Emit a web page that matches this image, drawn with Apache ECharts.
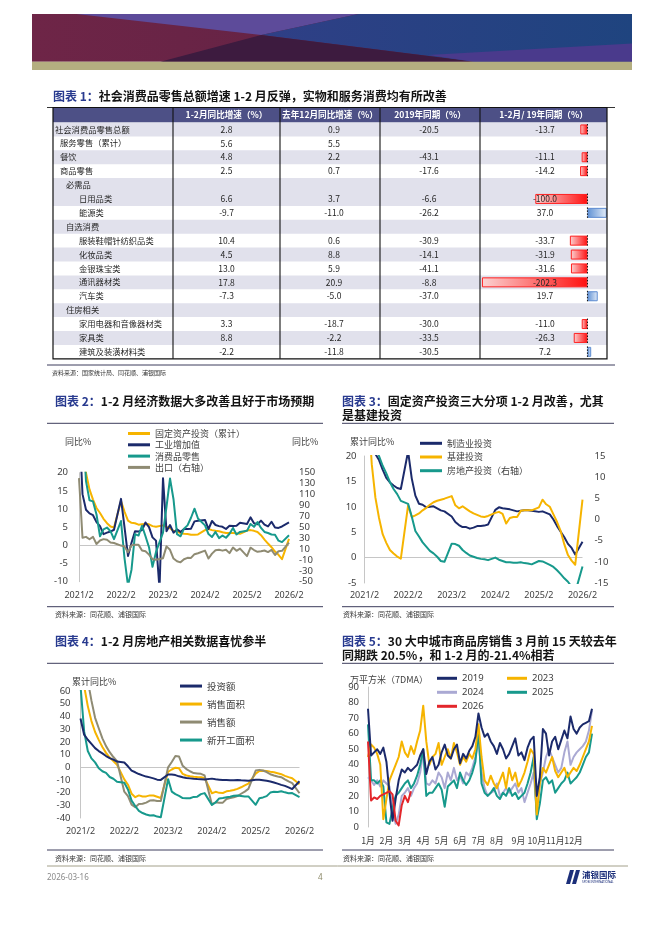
<!DOCTYPE html>
<html><head><meta charset="utf-8">
<script src="https://cdn.jsdelivr.net/npm/echarts@6.0.0/dist/echarts.min.js"></script>
<style>html,body{margin:0;padding:0;background:#fff}#c{width:662px;height:936px}</style>
</head><body><div id="c"></div>
<script>
// ================= DATA =================
// Table 1
const rowNames = ['社会消费品零售总额','服务零售（累计）','餐饮','商品零售','必需品','日用品类','能源类','自选消费','服装鞋帽针纺织品类','化妆品类','金银珠宝类','通讯器材类','汽车类','住房相关','家用电器和音像器材类','家具类','建筑及装潢材料类'];
const rowLevels = [0,1,1,1,2,3,3,2,3,3,3,3,3,2,3,3,3];
const ytdYoY  = [2.8,5.6,4.8,2.5,null,6.6,-9.7,null,10.4,4.5,13.0,17.8,-7.3,null,3.3,8.8,-2.2];
const decYoY  = [0.9,5.5,2.2,0.7,null,3.7,-11.0,null,0.6,8.8,5.9,20.9,-5.0,null,-18.7,-2.2,-11.8];
const yoy2019 = [-20.5,null,-43.1,-17.6,null,-6.6,-26.2,null,-30.9,-14.1,-41.1,-8.8,-37.0,null,-30.0,-33.5,-30.5];
const vs2019  = [-13.7,null,-11.1,-14.2,null,-100.0,37.0,null,-33.7,-31.9,-31.6,-202.3,19.7,null,-11.0,-26.3,7.2];
const tableHeaders = ['1-2月同比增速（%）','去年12月同比增速（%）','2019年同期（%）','1-2月/ 19年同期（%）'];

// Monthly axis 2021/2 .. 2026/2 (January has no separate data)
const months = [];
for (let y = 2021; y <= 2026; y++) for (let m = 1; m <= 12; m++) {
  if ((y === 2021 && m < 2) || (y === 2026 && m > 2)) continue;
  months.push(y + '/' + m);
}

// Chart 2
const faiCum = [35.0,25.6,19.9,15.4,12.6,10.3,8.9,7.3,6.1,5.2,4.9,null,
  12.2,9.3,6.8,6.2,6.1,5.7,5.8,5.9,5.8,5.3,5.1,null,
  5.5,5.1,4.7,4.0,3.8,3.4,3.2,3.1,2.9,2.9,3.0,null,
  4.2,4.5,4.2,4.0,3.9,3.6,3.4,3.4,3.4,3.3,3.2,null,
  4.1,4.2,4.0,3.7,2.8,1.6,0.5,-0.5,-1.7,-2.6,-3.8,null,1.8];
const indVA = [35.1,14.1,9.8,8.8,8.3,6.4,5.3,3.1,3.5,3.8,4.3,null,
  12.8,5.0,-2.9,0.7,3.9,3.8,4.2,6.3,5.0,2.2,1.3,-12.0,
  18.5,3.9,5.6,3.5,4.4,3.7,4.5,4.5,4.6,6.6,6.8,null,
  7.0,4.5,6.7,5.6,5.3,5.1,4.5,5.4,5.3,5.4,6.2,null,
  5.9,7.7,6.1,5.8,6.8,5.7,5.2,6.5,4.9,4.8,5.2,null,6.3];
const retail = [33.8,34.2,17.7,12.4,12.1,8.5,2.5,4.4,4.9,3.9,1.7,null,
  6.7,-3.5,-11.1,-6.7,3.1,2.7,5.4,2.5,-0.5,-5.9,-1.8,null,
  3.5,10.6,18.4,12.7,3.1,2.5,4.6,5.5,7.6,10.1,7.4,null,
  5.5,3.1,2.3,3.7,2.0,2.7,2.1,3.2,4.8,3.0,3.7,null,
  4.0,5.9,5.1,6.4,4.8,3.7,3.4,3.0,2.9,1.3,0.9,null,2.8];
const exportsYoY = [140.0,30.6,32.3,27.9,32.2,19.3,25.6,28.1,27.1,22.0,20.9,null,
  16.3,14.7,3.9,16.9,17.9,18.0,7.1,5.7,-0.3,-8.7,-9.9,null,
  -6.8,14.8,8.5,-7.5,-12.4,-14.5,-8.8,-6.2,-6.4,0.5,2.3,null,
  7.1,-7.5,1.5,7.6,8.6,7.0,8.7,2.4,12.7,6.7,10.7,null,
  -3.0,12.4,8.1,4.8,5.8,7.2,4.4,8.3,-1.1,5.9,6.6,null,21.8];

// Chart 3
const mfgInv = [37.3,29.8,23.8,20.4,19.2,17.3,15.7,14.8,14.2,13.7,13.5,null,
  20.9,15.6,12.2,10.6,10.4,9.9,10.0,10.1,9.7,9.3,9.1,null,
  8.1,7.0,6.4,6.0,6.0,5.7,5.9,6.2,6.2,6.3,6.5,null,
  9.4,9.9,9.7,9.6,9.5,9.3,9.1,9.2,9.3,9.3,9.2,null,
  9.0,9.1,8.8,8.5,7.5,6.2,5.1,4.0,2.7,1.9,0.6,null,3.1];
const infraInv = [36.6,29.7,18.4,11.8,7.8,4.6,2.9,1.5,0.8,0.2,-0.2,null,
  10.3,8.0,8.3,8.7,9.3,9.8,10.4,10.9,11.2,11.4,11.6,null,
  12.1,10.3,9.7,10.1,9.6,9.1,8.7,8.4,8.1,8.0,8.2,null,
  8.8,9.0,8.6,6.7,7.8,8.0,8.0,9.2,9.3,9.3,9.3,null,
  9.9,11.4,10.5,10.0,8.5,7.0,5.2,2.6,0.5,-0.6,-1.4,null,11.4];
const reInv = [38.3,25.6,21.6,18.3,15.0,12.7,10.9,8.8,7.2,6.0,4.4,null,
  3.7,0.7,-2.7,-4.0,-5.4,-6.4,-7.4,-8.0,-8.8,-9.8,-10.0,null,
  -5.7,-5.8,-6.2,-7.2,-7.9,-8.5,-8.8,-9.1,-9.3,-9.4,-9.6,null,
  -9.0,-9.5,-9.8,-10.1,-10.1,-10.2,-10.2,-10.1,-10.3,-10.4,-10.6,null,
  -9.8,-9.9,-10.3,-10.7,-11.2,-12.0,-12.9,-13.9,-14.7,-15.9,-17.2,null,-11.1];

// Chart 4
const salesArea = [104.9,63.8,48.1,36.3,27.7,21.5,15.9,11.3,7.6,4.8,1.9,null,
  -9.6,-13.8,-20.9,-23.6,-22.2,-23.1,-23.0,-22.2,-22.3,-23.3,-24.3,null,
  -3.6,-1.8,-0.4,-0.9,-5.3,-6.5,-7.1,-7.5,-7.8,-8.0,-8.5,null,
  -20.5,-19.4,-20.2,-20.3,-19.0,-18.6,-18.0,-17.1,-15.8,-14.3,-12.9,null,
  -5.1,-3.0,-2.8,-2.9,-3.5,-4.0,-4.7,-5.5,-6.8,-7.8,-8.7,null,-13.5];
const salesAmt = [133.4,88.5,68.2,52.4,38.9,30.7,22.7,16.6,11.8,8.0,4.8,null,
  -19.3,-22.7,-29.5,-31.5,-28.9,-28.8,-27.9,-26.3,-26.1,-26.6,-26.7,null,
  -0.1,4.1,8.8,8.4,1.1,-1.5,-3.2,-4.6,-4.9,-5.2,-6.5,null,
  -29.3,-27.6,-28.0,-27.9,-25.0,-24.3,-23.6,-22.7,-20.9,-19.2,-17.1,null,
  -2.6,-2.1,-2.6,-3.8,-5.5,-6.5,-7.3,-7.9,-9.6,-11.2,-12.6,null,-20.5];
const newStarts = [64.3,28.2,12.8,6.9,3.8,-0.9,-3.2,-4.5,-7.7,-9.1,-11.4,null,
  -12.2,-17.5,-26.3,-30.6,-34.4,-36.1,-37.2,-38.0,-37.8,-38.9,-39.4,null,
  -9.4,-19.2,-21.2,-22.6,-24.3,-24.5,-24.4,-23.4,-23.2,-21.2,-20.4,null,
  -29.7,-27.8,-24.6,-24.2,-23.7,-23.2,-22.5,-22.2,-22.6,-23.0,-23.0,null,
  -29.6,-24.4,-23.8,-22.8,-20.0,-19.4,-19.5,-18.9,-19.8,-20.5,-20.4,null,-23.5];
const reInvest = reInv;

// Chart 5 (7DMA, sampled every 5 days)
const sampleDays = [];
for (let d = 0; d <= 365; d += 5) sampleDays.push(d);
const monthStartDays = [0,31,59,90,120,151,181,212,243,273,304,334];
const sales2019 = [76,46,48,50,47,51,42,22,4,18,30,37,35,38,36,38,40,46,50,34,42,45,37,40,48,53,46,44,50,53,41,47,44,49,52,58,73,64,58,60,55,52,47,54,50,44,47,52,57,46,48,43,51,56,58,20,32,63,60,46,55,58,50,56,62,57,71,63,60,64,66,67,68,76];
const sales2023 = [45,53,51,47,40,5,18,30,35,40,45,55,48,45,52,47,55,62,78,55,40,45,47,54,40,45,50,44,54,48,40,45,42,47,44,50,66,45,30,27,33,28,25,30,35,25,38,30,35,26,30,35,42,50,47,8,28,38,35,40,45,36,32,35,38,32,35,38,36,40,45,50,55,65];
const sales2024 = [32,30,27,30,26,30,28,26,12,2,8,20,22,25,20,25,28,35,48,28,27,30,28,35,32,25,35,30,38,30,33,28,35,33,38,45,55,35,25,20,22,23,28,20,22,25,22,25,28,22,25,16,22,28,35,10,28,35,45,50,45,40,35,38,48,55,40,45,48,50,52,55,62,75];
const sales2025 = [66,30,30,28,30,26,3,2,12,20,22,25,28,30,25,28,33,40,50,20,22,22,25,28,24,13,26,28,30,25,35,30,27,30,35,42,62,28,22,20,22,25,20,18,22,20,25,20,22,18,20,22,28,35,45,5,15,30,32,28,30,22,25,28,30,35,28,30,32,35,40,45,48,60];
const sales2026 = [55,17,19,18,20,21,22,23,21,4,1,14,20,16,23];

// ================= STYLE / LAYOUT =================
const CN = '"Noto Sans CJK SC"';
const C = {navy:'#1b2a6b', yellow:'#f6b400', teal:'#17998c', olive:'#8f8b73', lav:'#aaa9d3', red:'#e3262b'};
const TB = {left:53, top:122.5, width:554, height:236.3, headTop:107.5};
const numCenters = [173.5, 281, 376, 492];
const indentPx = [2, 7, 13, 26];
const shaded = [1,0,1,0,1,1,0,1,0,1,0,1,0,1,0,1,0];
const tickC = '#404040';
const monthStartIdx = monthStartDays.map(d => Math.round(d / 5));

function lineSeries(name, data, xi, yi, color, extra) {
  return Object.assign({
    name, type:'line', data, xAxisIndex:xi, yAxisIndex:yi, symbol:'none', connectNulls:true,
    lineStyle:{color, width:2, join:'round'}, itemStyle:{color}, silent:true, clip:true, z:5
  }, extra || {});
}
function zeroLine() {
  return {silent:true, symbol:'none', label:{show:false}, animation:false,
    lineStyle:{color:'#c6c6c6', width:1, type:'solid'}, data:[{yAxis:0}]};
}
function catAxis(gi, data, margin) {
  return {type:'category', gridIndex:gi, data, boundaryGap:false,
    axisLine:{show:false}, axisTick:{show:false}, splitLine:{show:false},
    axisLabel:{interval:(i)=>i%12===0, hideOverlap:false, color:tickC, fontSize:9, margin:margin, fontFamily:'"Noto Sans"'}};
}
function valAxis(gi, min, max, interval, pos, margin, line) {
  return {type:'value', gridIndex:gi, min, max, interval, position:pos,
    axisLine:{show:!!line, lineStyle:{color:'#c6c6c6', width:1}}, axisTick:{show:false}, splitLine:{show:false},
    axisLabel:{color:tickC, fontSize:9.5, margin, hideOverlap:false, fontFamily:'"Noto Sans"'}};
}
function legend(names, left, top, fontSize, gap, w) {
  return {data:names, orient:'vertical', left, top, itemWidth:w||22, itemHeight:3, icon:'rect', itemGap:gap,
    selectedMode:false, textStyle:{color:'#404040', fontSize, fontFamily: CN}, padding:0};
}

// table renderers
function renderBg(params, api) {
  const i = api.value(1);
  if (!shaded[i]) return;
  const p0 = api.coord([0, i]), p1 = api.coord([TB.width, i]);
  const h = api.size([0, 1])[1];
  return {type:'rect', shape:{x:p0[0], y:p0[1]-h/2, width:p1[0]-p0[0], height:h}, style:{fill:'#e1e1ec'}};
}
function renderText(params, api) {
  const i = api.value(1);
  const p0 = api.coord([0, i]);
  const children = [{type:'text', style:{text:rowNames[i], x:p0[0]+indentPx[rowLevels[i]], y:p0[1],
    align:'left', verticalAlign:'middle', fill:'#262626', font:'8.3px ' + CN}}];
  [ytdYoY, decYoY, yoy2019, vs2019].forEach((arr, c) => {
    const v = arr[i];
    if (v == null) return;
    const p = api.coord([numCenters[c], i]);
    children.push({type:'text', style:{text:v.toFixed(1), x:p[0], y:p[1], align:'center', verticalAlign:'middle',
      fill:'#262626', font:'8.5px ' + CN}});
  });
  return {type:'group', children};
}
function renderAxisDash(params, api) {
  const i = api.value(1);
  const p = api.coord([0, i]);
  const h = api.size([0, 1])[1];
  return {type:'line', shape:{x1:p[0], y1:p[1]-h/2+1.5, x2:p[0], y2:p[1]+h/2-1.5},
    style:{stroke:'#111', lineWidth:1, lineDash:[1.5,1.5]}};
}
const negFill = new echarts.graphic.LinearGradient(0,0,1,0,[{offset:0,color:'#fbd3d3'},{offset:1,color:'#ff1010'}]);
const posFill = new echarts.graphic.LinearGradient(0,0,1,0,[{offset:0,color:'#5f91d4'},{offset:1,color:'#e3ecf8'}]);
const barData = vs2019.map(v => v == null ? null : {value:v, itemStyle: v < 0 ?
  {color:negFill, borderColor:'#ff2020', borderWidth:1} : {color:posFill, borderColor:'#5b8ad0', borderWidth:1}});
const rowIdx = rowNames.map((_, i) => [0, i]);
const barRows = vs2019.map((v, i) => v == null ? null : [0, i]).filter(d => d);

// graphic helpers
function txt(text, x, y, font, fill, align, extra) {
  return Object.assign({type:'text', silent:true, style:{text, x, y, font, fill:fill||'#333', align:align||'left', verticalAlign:'middle'}}, extra||{});
}
function hline(x1, x2, y, color, w) {
  return {type:'line', silent:true, shape:{x1, y1:y, x2, y2:y}, style:{stroke:color, lineWidth:w||1}};
}
function vline(x, y1, y2, color, w) {
  return {type:'line', silent:true, z:100, shape:{x1:x, y1, x2:x, y2}, style:{stroke:color, lineWidth:w||1}};
}
function title(prefix, rest, x, y) {
  return {type:'text', silent:true, style:{text:'{a|' + prefix + '}{b|' + rest + '}', x, y, verticalAlign:'middle',
    rich:{a:{fill:'#283a8f', fontWeight:'bold', fontSize:12, fontFamily:CN}, b:{fill:'#141414', fontWeight:'bold', fontSize:12, fontFamily:CN}}}};
}
function poly(points, fill) { return {type:'polygon', silent:true, shape:{points}, style:{fill}}; }

const BX = 32, BW = 600, BY = 14, BH = 47.7;
const bu = u => BX + BW * u, bv = v => BY + BH * v;

const graphics = [
  // banner
  {type:'rect', silent:true, shape:{x:BX, y:BY, width:BW, height:BH}, style:{fill:new echarts.graphic.LinearGradient(0,0,1,0,[{offset:0,color:'#6e2547'},{offset:1,color:'#5a2143'}])}},
  poly([[bu(0.074),bv(0)],[bu(0.544),bv(0)],[bu(0.382),bv(0.44)]], '#5d4b9a'),
  poly([[bu(0.544),bv(0)],[bu(1),bv(0)],[bu(1),bv(1)],[bu(0.737),bv(1)],[bu(0.382),bv(0.44)]],
       new echarts.graphic.LinearGradient(0,0,1,0,[{offset:0,color:'#2f3f86'},{offset:1,color:'#1f447f'}])),
  poly([[bu(0.214),bv(1)],[bu(0.382),bv(0.44)],[bu(0.737),bv(1)]], '#3d1b3f'),
  poly([[bu(0.66),bv(0.86)],[bu(1),bv(0.62)],[bu(1),bv(1)],[bu(0.737),bv(1)]], '#4a3a8c'),
  {type:'rect', silent:true, shape:{x:BX, y:BY+BH, width:BW, height:8.3}, style:{fill:'#b4ae80'}},

  // table 1
  title('图表 1：', '社会消费品零售总额增速 1-2 月反弹，实物和服务消费均有所改善', 53, 96),
  hline(47, 615, TB.headTop, '#333', 1),
  {type:'rect', silent:true, shape:{x:TB.left, y:TB.headTop, width:TB.width, height:TB.top-TB.headTop}, style:{fill:'#4d5086'}},
  txt(tableHeaders[0], 226.5, 115.2, 'bold 8.6px ' + CN, '#fff', 'center'),
  txt(tableHeaders[1], 330, 115.2, 'bold 8.6px ' + CN, '#fff', 'center'),
  txt(tableHeaders[2], 430, 115.2, 'bold 8.6px ' + CN, '#fff', 'center'),
  txt(tableHeaders[3], 543.5, 115.2, 'bold 8.6px ' + CN, '#fff', 'center'),
  {type:'rect', silent:true, z:100, shape:{x:TB.left, y:TB.headTop, width:TB.width, height:TB.top+TB.height-TB.headTop}, style:{fill:'none', stroke:'#111', lineWidth:1.2}},
  vline(173, TB.headTop, TB.top+TB.height, '#111', 1.1),
  vline(280, TB.headTop, TB.top+TB.height, '#111', 1.1),
  vline(380, TB.headTop, TB.top+TB.height, '#111', 1.1),
  vline(480, TB.headTop, TB.top+TB.height, '#111', 1.1),
  hline(47, 615, 365, '#3c3c5c', 1),
  txt('资料来源：国家统计局、同花顺、浦银国际', 52, 373, '6px ' + CN, '#333'),

  // chart 2
  title('图表 2：', '1-2 月经济数据大多改善且好于市场预期', 55, 401),
  hline(47, 323, 423.3, '#3c3c5c', 1),
  txt('同比%', 65, 441.7, '9px ' + CN, '#404040'),
  txt('同比%', 292, 441.7, '9px ' + CN, '#404040'),
  hline(47, 323, 606.7, '#3c3c5c', 1),
  txt('资料来源：同花顺、浦银国际', 55, 614, '7px ' + CN, '#333'),

  // chart 3
  title('图表 3：', '固定资产投资三大分项 1-2 月改善，尤其', 342, 401),
  {type:'text', silent:true, style:{text:'是基建投资', x:342, y:415.5, verticalAlign:'middle', fill:'#141414', font:'bold 12px ' + CN}},
  hline(342, 614, 423.3, '#3c3c5c', 1),
  txt('累计同比%', 350, 441.7, '9px ' + CN, '#404040'),
  hline(342, 614, 606.7, '#3c3c5c', 1),
  txt('资料来源：同花顺、浦银国际', 343, 614, '7px ' + CN, '#333'),

  // chart 4
  title('图表 4：', '1-2 月房地产相关数据喜忧参半', 55, 641),
  hline(47, 323, 663.3, '#3c3c5c', 1),
  txt('累计同比%', 72, 681.7, '9px ' + CN, '#404040'),
  hline(47, 323, 850, '#3c3c5c', 1),
  txt('资料来源：同花顺、浦银国际', 55, 858, '7px ' + CN, '#333'),

  // chart 5
  title('图表 5：', '30 大中城市商品房销售 3 月前 15 天较去年', 342, 641),
  {type:'text', silent:true, style:{text:'同期跌 20.5%，和 1-2 月的-21.4%相若', x:342, y:655.5, verticalAlign:'middle', fill:'#141414', font:'bold 12px ' + CN}},
  hline(342, 614, 663.3, '#3c3c5c', 1),
  txt('万平方米（7DMA）', 350, 680, '9px ' + CN, '#404040'),
  hline(342, 614, 850, '#3c3c5c', 1),
  txt('资料来源：同花顺、浦银国际', 343, 858, '7px ' + CN, '#333'),

  // footer
  hline(47, 628, 866, '#a3a08a', 1),
  txt('2026-03-16', 47, 877.5, '8px "Noto Sans"', '#8a8a8a'),
  txt('4', 318, 877.5, '8px "Noto Sans"', '#8a8766'),
  poly([[566,884],[570,870],[574,870],[570,884]], '#1c2f7a'),
  poly([[572,884],[576,870],[580,870],[576,884]], '#1c2f7a'),
  txt('浦银国际', 582, 875, 'bold 8.5px ' + CN, '#1c2f7a'),
  txt('SPDB INTERNATIONAL', 582, 882.5, '3px "Noto Sans"', '#1c2f7a')
];

// ================= OPTION =================
const option = {
  animation:false,
  backgroundColor:'#fff',
  textStyle:{fontFamily:CN},
  grid:[
    {left:TB.left, top:TB.top, width:TB.width, height:TB.height},
    {left:480, top:TB.top, width:127, height:TB.height},
    {left:79, top:472.7, width:210, height:109},
    {left:364.5, top:456, width:218, height:127},
    {left:80.5, top:691, width:219, height:127},
    {left:368, top:687, width:224, height:140}
  ],
  xAxis:[
    {type:'value', gridIndex:0, min:0, max:TB.width, show:false},
    {type:'value', gridIndex:1, min:-206, max:37.5, show:false},
    catAxis(2, months, 9),
    catAxis(3, months, 8),
    catAxis(4, months, 9),
    {type:'category', gridIndex:5, data:sampleDays, boundaryGap:false, axisLine:{show:false}, axisTick:{show:false},
      axisLabel:{interval:(i)=>monthStartIdx.indexOf(i) >= 0, formatter:(v, i)=> (monthStartIdx.indexOf(i)+1) + '月',
        hideOverlap:false, color:tickC, fontSize:8.8, margin:9, fontFamily:CN}}
  ],
  yAxis:[
    {type:'category', gridIndex:0, data:rowNames, inverse:true, show:false},
    {type:'category', gridIndex:1, data:rowNames, inverse:true, show:false},
    valAxis(2, -10, 20, 5, 'left', 11, true),
    valAxis(2, -50, 150, 20, 'right', 10, false),
    valAxis(3, -5, 20, 5, 'left', 8, true),
    valAxis(3, -15, 15, 5, 'right', 12, false),
    valAxis(4, -40, 60, 10, 'left', 10, true),
    valAxis(5, 0, 90, 10, 'left', 9, true)
  ],
  legend:[
    legend(['固定资产投资（累计）','工业增加值','消费品零售','出口（右轴）'], 128, 429, 9, 2.3),
    legend(['制造业投资','基建投资','房地产投资（右轴）'], 420, 438.8, 9, 4.7),
    legend(['投资额','销售面积','销售额','新开工面积'], 180, 681.3, 9.5, 8.5),
    Object.assign(legend(['2019','2024','2026'], 437, 673.3, 9.5, 4, 20), {textStyle:{color:'#404040', fontSize:9.5, fontFamily:'"Noto Sans"'}}),
    Object.assign(legend(['2023','2025'], 507, 673.3, 9.5, 4, 20), {textStyle:{color:'#404040', fontSize:9.5, fontFamily:'"Noto Sans"'}})
  ],
  series:[
    // table
    {type:'custom', name:'rowBg', xAxisIndex:0, yAxisIndex:0, data:rowIdx, encode:{x:0, y:1}, renderItem:renderBg, silent:true, z:1},
    {type:'bar', name:'1-2月/19年同期', xAxisIndex:1, yAxisIndex:1, data:barData, barWidth:10, silent:true, z:2},
    {type:'custom', name:'barAxis', xAxisIndex:1, yAxisIndex:1, data:barRows, encode:{x:0, y:1}, renderItem:renderAxisDash, silent:true, z:3},
    {type:'custom', name:'rowText', xAxisIndex:0, yAxisIndex:0, data:rowIdx, encode:{x:0, y:1}, renderItem:renderText, silent:true, z:4},
    // chart 2
    lineSeries('固定资产投资（累计）', faiCum, 2, 2, C.yellow, {markLine:zeroLine()}),
    lineSeries('工业增加值', indVA, 2, 2, C.navy),
    lineSeries('消费品零售', retail, 2, 2, C.teal),
    lineSeries('出口（右轴）', exportsYoY, 2, 3, C.olive),
    // chart 3
    lineSeries('制造业投资', mfgInv, 3, 4, C.navy, {markLine:zeroLine()}),
    lineSeries('基建投资', infraInv, 3, 4, C.yellow),
    lineSeries('房地产投资（右轴）', reInv, 3, 5, C.teal),
    // chart 4
    lineSeries('投资额', reInvest, 4, 6, C.navy, {markLine:zeroLine(), z:8}),
    lineSeries('销售面积', salesArea, 4, 6, C.yellow),
    lineSeries('销售额', salesAmt, 4, 6, C.olive),
    lineSeries('新开工面积', newStarts, 4, 6, C.teal),
    // chart 5
    lineSeries('2024', sales2024, 5, 7, C.lav),
    lineSeries('2025', sales2025, 5, 7, C.teal),
    lineSeries('2023', sales2023, 5, 7, C.yellow),
    lineSeries('2019', sales2019, 5, 7, C.navy),
    lineSeries('2026', sales2026, 5, 7, C.red)
  ],
  graphic:graphics
};
const chart = echarts.init(document.getElementById('c'), null, {renderer:'canvas', width:662, height:936});
chart.setOption(option);
</script></body></html>
